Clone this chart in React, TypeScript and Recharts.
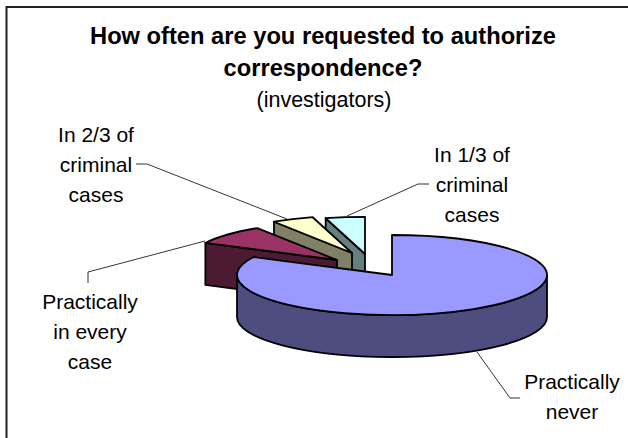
import { Pie, PieChart } from "recharts";

// drawn back to front, counter-clockwise from 12 o'clock
const CATEGORIES = [
  "In 1/3 of criminal cases",
  "In 2/3 of criminal cases",
  "Practically in every case",
  "Practically never",
];
const VALUES = [4.4, 4.7, 8.5, 82.4];

const TITLE_LINES = ["How often are you requested to authorize", "correspondence?"];
const SUBTITLE = "(investigators)";
const LABEL_LINES = [
  ["In 1/3 of", "criminal", "cases"],
  ["In 2/3 of", "criminal", "cases"],
  ["Practically", "in every", "case"],
  ["Practically", "never"],
];

const TOP_COLORS = ["#ccffff", "#ffffcc", "#993366", "#9999ff"];
const SIDE_COLORS = ["#668080", "#808066", "#4d1a33", "#4d4d80"];

// look of the fake 3D pie
const SQUASH = 40 / 155;
const DEPTH = 42;
const EXPLODE = [
  { dx: -27, dy: -21, scale: 0.93 },
  { dx: -40, dy: -22, scale: 0.93 },
  { dx: -55, dy: -15, scale: 0.95 },
  { dx: 0, dy: 0, scale: 1 },
];

const LABEL_POS = [
  { x: 472, y: 162 },
  { x: 96, y: 142 },
  { x: 90, y: 309 },
  { x: 572, y: 389 },
];
const LEADERS = [
  "M347 216 L418 184 L429 184",
  "M136 164 L147 164 L287 219",
  "M205 241 L88 272 L88 283",
  "M477 352 L510 398 L520 398",
];

const renderSlice = (props: any) => {
  const { cx, cy, outerRadius, startAngle, endAngle, payload } = props;
  const i = CATEGORIES.indexOf(payload.name);
  const { dx, dy, scale } = EXPLODE[i];
  const rx = outerRadius * scale;
  const ry = rx * SQUASH;
  const ox = cx + dx;
  const oy = cy + dy;
  const pt = (deg: number) => {
    const rad = (deg * Math.PI) / 180;
    return [ox + rx * Math.cos(rad), oy - ry * Math.sin(rad)];
  };
  const [sx, sy] = pt(startAngle);
  const [ex, ey] = pt(endAngle);
  const large = endAngle - startAngle > 180 ? 1 : 0;
  const top = `M${ox} ${oy} L${sx} ${sy} A${rx} ${ry} 0 ${large} 0 ${ex} ${ey} Z`;

  // cut face on the counter-clockwise end, seen only when it turns to the viewer
  const endCos = Math.cos((endAngle * Math.PI) / 180);
  const face =
    endCos < -0.001
      ? `M${ox} ${oy} L${ex} ${ey} L${ex} ${ey + DEPTH} L${ox} ${oy + DEPTH} Z`
      : null;

  // outer wall, only the front half of the ellipse
  const from = Math.max(startAngle, 180);
  const to = Math.min(endAngle, 360);
  let wall = null;
  if (to > from) {
    const [ax, ay] = pt(from);
    const [bx, by] = pt(to);
    wall = `M${ax} ${ay} A${rx} ${ry} 0 0 0 ${bx} ${by} L${bx} ${by + DEPTH} A${rx} ${ry} 0 0 1 ${ax} ${ay + DEPTH} Z`;
  }

  const line = { stroke: "#000000", strokeWidth: 1.8, strokeLinejoin: "round" as const };
  return (
    <g>
      {face && <path d={face} fill={SIDE_COLORS[i]} {...line} />}
      {wall && <path d={wall} fill={SIDE_COLORS[i]} {...line} />}
      <path d={top} fill={TOP_COLORS[i]} {...line} />
    </g>
  );
};

const renderLabel = (props: any) => {
  const i = CATEGORIES.indexOf(props.payload?.name ?? props.name);
  return (
    <g>
      <path d={LEADERS[i]} fill="none" stroke="#000000" strokeWidth={0.8} />
      <text x={LABEL_POS[i].x} textAnchor="middle" fontSize={21} fill="#000000">
        {LABEL_LINES[i].map((text, n) => (
          <tspan key={text} x={LABEL_POS[i].x} y={LABEL_POS[i].y + n * 30}>
            {text}
          </tspan>
        ))}
      </text>
    </g>
  );
};

export default function App() {
  const data = CATEGORIES.map((name, i) => ({ name, value: VALUES[i] }));

  return (
    <div style={{ position: "absolute", left: 0, top: 0, fontFamily: "'Liberation Sans', Arial, sans-serif" }}>
      <PieChart width={628} height={438} margin={{ top: 0, right: 0, bottom: 0, left: 0 }}>
        <rect x={6.5} y={7} width={640} height={460} fill="#ffffff" stroke="#222222" strokeWidth={2} />
        <text textAnchor="middle" fontSize={23.7} fontWeight="bold" fill="#000000">
          {TITLE_LINES.map((text, n) => (
            <tspan key={text} x={323} y={44 + n * 32}>
              {text}
            </tspan>
          ))}
        </text>
        <text x={324} y={107} textAnchor="middle" fontSize={21.5} fill="#000000">
          {SUBTITLE}
        </text>
        <Pie
          data={data}
          dataKey="value"
          nameKey="name"
          cx={392}
          cy={275}
          innerRadius={0}
          outerRadius={155}
          startAngle={90}
          endAngle={450}
          paddingAngle={0}
          shape={renderSlice}
          label={renderLabel}
          labelLine={false}
          isAnimationActive={false}
        />
      </PieChart>
    </div>
  );
}
